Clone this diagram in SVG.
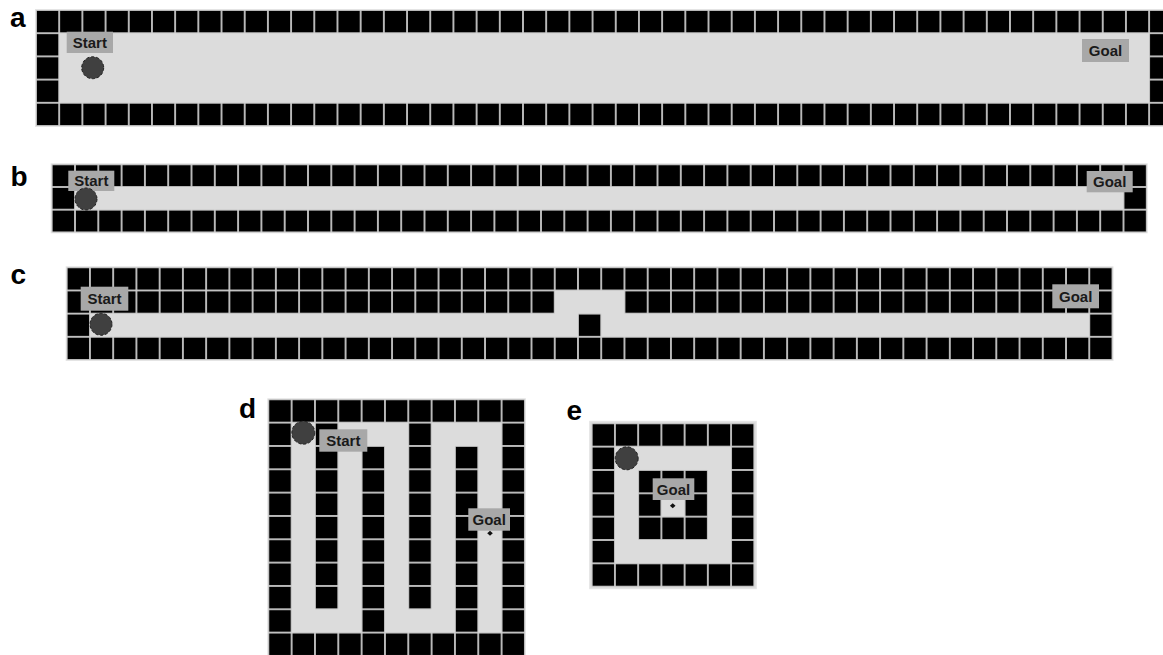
<svg xmlns="http://www.w3.org/2000/svg" width="1163" height="655" viewBox="0 0 1163 655">
<style>
.floor{fill:#dcdcdc;stroke:#e4e4e4;stroke-width:1}
.lbl{fill:#a8a8a8}
.lt{font-family:"Liberation Sans",Arial,sans-serif;font-weight:bold;font-size:15px;fill:#1a1a1a;text-anchor:middle}
.pl{font-family:"Liberation Sans",Arial,sans-serif;font-weight:bold;font-size:28px;fill:#000}
.agent{fill:#404040;stroke:#222;stroke-width:1;stroke-dasharray:3 2}
.dot{fill:#111}
</style>
<defs>
<pattern id="pa" x="36" y="10" width="23.19" height="23.2" patternUnits="userSpaceOnUse"><rect width="23.19" height="23.2" fill="#c8c8c8"/><rect x="0.9" y="0.9" width="21.4" height="21.4" fill="#000"/></pattern>
<pattern id="pb" x="51.7" y="164.3" width="23.3" height="22.7" patternUnits="userSpaceOnUse"><rect width="23.3" height="22.7" fill="#c8c8c8"/><rect x="0.9" y="0.9" width="21.5" height="20.9" fill="#000"/></pattern>
<pattern id="pc" x="66.7" y="267.3" width="23.24" height="23.17" patternUnits="userSpaceOnUse"><rect width="23.24" height="23.17" fill="#c8c8c8"/><rect x="0.9" y="0.9" width="21.44" height="21.37" fill="#000"/></pattern>
<pattern id="pd" x="268.3" y="399.3" width="23.33" height="23.33" patternUnits="userSpaceOnUse"><rect width="23.33" height="23.33" fill="#c8c8c8"/><rect x="0.9" y="0.9" width="21.53" height="21.53" fill="#000"/></pattern>
<pattern id="pe" x="591.7" y="423.3" width="23.23" height="23.34" patternUnits="userSpaceOnUse"><rect width="23.23" height="23.34" fill="#c8c8c8"/><rect x="0.9" y="0.9" width="21.43" height="21.54" fill="#000"/></pattern>
</defs>

<g id="panel-a">
<text class="pl" x="10" y="26.5">a</text>
<rect class="floor" x="35.5" y="9.5" width="1137" height="117"/>
<rect fill="url(#pa)" x="36" y="10" width="1136.3" height="23.2"/>
<rect fill="url(#pa)" x="36" y="102.8" width="1136.3" height="23.2"/>
<rect fill="url(#pa)" x="36" y="33.2" width="23.19" height="69.6"/>
<rect fill="url(#pa)" x="1149.12" y="33.2" width="23.19" height="69.6"/>
<rect class="lbl" x="66.7" y="31.7" width="46.3" height="21.3"/>
<text class="lt" x="89.8" y="47.6">Start</text>
<circle class="agent" cx="92.7" cy="67.7" r="11"/>
<rect class="lbl" x="1082" y="39" width="47" height="23"/>
<text class="lt" x="1105.5" y="55.8">Goal</text>
</g>

<g id="panel-b">
<text class="pl" x="10.5" y="186">b</text>
<rect class="floor" x="51.2" y="163.8" width="1096" height="69"/>
<rect fill="url(#pb)" x="51.7" y="164.3" width="1095.1" height="22.7"/>
<rect fill="url(#pb)" x="51.7" y="209.7" width="1095.1" height="22.7"/>
<rect fill="url(#pb)" x="51.7" y="187" width="23.3" height="22.7"/>
<rect fill="url(#pb)" x="1123.5" y="187" width="23.3" height="22.7"/>
<rect class="lbl" x="68.3" y="170.7" width="46" height="20.3"/>
<text class="lt" x="91.3" y="186.2">Start</text>
<circle class="agent" cx="86" cy="199" r="11"/>
<rect class="lbl" x="1086.7" y="171" width="46" height="21.3"/>
<text class="lt" x="1109.7" y="187">Goal</text>
</g>

<g id="panel-c">
<text class="pl" x="10.5" y="283.5">c</text>
<rect class="floor" x="66.2" y="266.8" width="1046.8" height="93.7"/>
<rect fill="url(#pc)" x="66.7" y="267.3" width="1045.8" height="23.17"/>
<rect fill="url(#pc)" x="66.7" y="290.47" width="488.04" height="23.17"/>
<rect fill="url(#pc)" x="624.46" y="290.47" width="488.04" height="23.17"/>
<rect fill="url(#pc)" x="66.7" y="313.64" width="23.24" height="23.17"/>
<rect fill="url(#pc)" x="577.98" y="313.64" width="23.24" height="23.17"/>
<rect fill="url(#pc)" x="1089.26" y="313.64" width="23.24" height="23.17"/>
<rect fill="url(#pc)" x="66.7" y="336.81" width="1045.8" height="23.17"/>
<rect class="lbl" x="80.7" y="286.7" width="47.6" height="24"/>
<text class="lt" x="104.5" y="304">Start</text>
<circle class="agent" cx="101" cy="324.3" r="11"/>
<rect class="lbl" x="1052.3" y="284.3" width="46.7" height="24"/>
<text class="lt" x="1075.7" y="301.6">Goal</text>
</g>

<g id="panel-d">
<text class="pl" x="239" y="418.3">d</text>
<rect class="floor" x="267.8" y="398.8" width="257.6" height="257.6"/>
<rect fill="url(#pd)" x="268.3" y="399.3" width="256.63" height="23.33"/>
<rect fill="url(#pd)" x="268.3" y="632.6" width="256.63" height="23.33"/>
<rect fill="url(#pd)" x="268.3" y="422.63" width="23.33" height="209.97"/>
<rect fill="url(#pd)" x="501.6" y="422.63" width="23.33" height="209.97"/>
<rect fill="url(#pd)" x="314.96" y="422.63" width="23.33" height="186.64"/>
<rect fill="url(#pd)" x="361.62" y="445.96" width="23.33" height="186.64"/>
<rect fill="url(#pd)" x="408.28" y="422.63" width="23.33" height="186.64"/>
<rect fill="url(#pd)" x="454.94" y="445.96" width="23.33" height="186.64"/>
<circle class="agent" cx="303.3" cy="432.7" r="11.5"/>
<rect class="lbl" x="319.3" y="429.3" width="48" height="22.4"/>
<text class="lt" x="343.3" y="445.8">Start</text>
<rect class="lbl" x="468.3" y="508.3" width="41.7" height="22.4"/>
<text class="lt" x="489.2" y="524.8">Goal</text>
<polygon class="dot" points="490,530.8 492.8,533.3 490,535.8 487.2,533.3"/>
</g>

<g id="panel-e">
<text class="pl" x="566.5" y="419.5">e</text>
<rect class="floor" x="589.7" y="421.3" width="166.6" height="167.4"/>
<rect fill="url(#pe)" x="591.7" y="423.3" width="162.61" height="23.34"/>
<rect fill="url(#pe)" x="591.7" y="563.34" width="162.61" height="23.34"/>
<rect fill="url(#pe)" x="591.7" y="446.64" width="23.23" height="116.7"/>
<rect fill="url(#pe)" x="731.08" y="446.64" width="23.23" height="116.7"/>
<rect fill="url(#pe)" x="638.16" y="469.98" width="69.69" height="70.02"/>
<rect fill="#dcdcdc" x="661.39" y="493.32" width="23.23" height="23.34"/>
<circle class="agent" cx="626.7" cy="458.3" r="11.5"/>
<rect class="lbl" x="652.7" y="478.3" width="41.6" height="21.7"/>
<text class="lt" x="673.5" y="494.5">Goal</text>
<polygon class="dot" points="672.7,503.2 675.5,505.7 672.7,508.2 669.9,505.7"/>
</g>
</svg>
